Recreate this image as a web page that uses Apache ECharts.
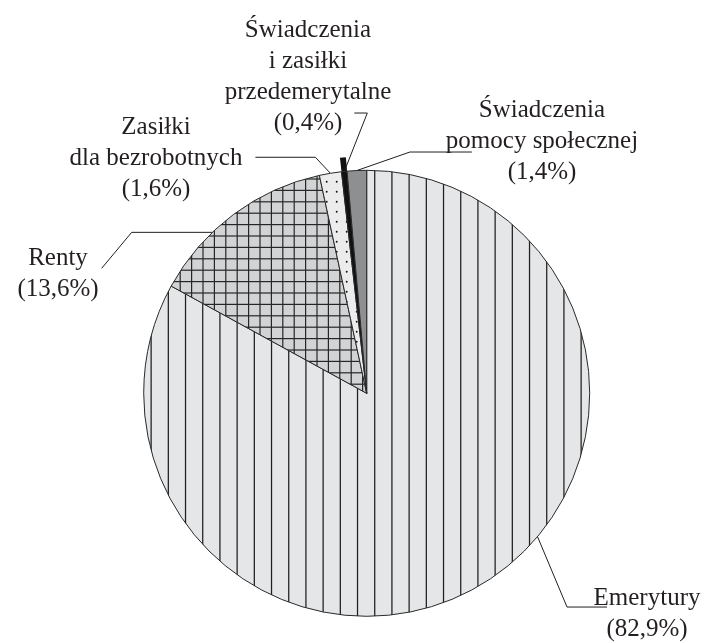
<!DOCTYPE html>
<html><head><meta charset="utf-8">
<script src="https://cdn.jsdelivr.net/npm/echarts@6/dist/echarts.min.js"></script>
<style>html,body{margin:0;padding:0;background:#fff}#c{width:704px;height:643px}</style>
</head><body><div id="c"></div>
<script>
// ---- data ----
const categories = ['Emerytury', 'Renty', 'Zasiłki\ndla bezrobotnych', 'Świadczenia\ni zasiłki\nprzedemerytalne', 'Świadczenia\npomocy społecznej'];
const shares = [82.9, 13.6, 1.6, 0.4, 1.4];

// ---- layout / style ----
const C = [366.7, 393.3];
const R = 223;
const FONT = '"Liberation Serif", "Times New Roman", serif';
const INK = '#231f20';

function tile(w, h, bg, draw) {
  const cv = document.createElement('canvas');
  cv.width = w; cv.height = h;
  const g = cv.getContext('2d');
  g.fillStyle = bg; g.fillRect(0, 0, w, h);
  draw(g);
  return { image: cv, repeat: 'repeat' };
}
const vertLines = tile(172, 8, '#e5e6e8', g => {
  g.fillStyle = '#1f1f1f';
  for (let i = 0; i < 10; i++) g.fillRect(13.5 + i * 17.2 - 0.6, 0, 1.25, 8);
});
const grid = tile(114, 114, '#d2d3d5', g => {
  g.fillStyle = '#262626';
  for (let i = 0; i < 10; i++) {
    g.fillRect(9.2 + i * 11.4 - 0.6, 0, 1.2, 114);
    g.fillRect(0, 8 + i * 11.4 - 0.6, 114, 1.2);
  }
});
const dots = tile(10, 10, '#ececed', g => {
  g.fillStyle = '#111';
  g.beginPath(); g.arc(6.7, 1.7, 0.95, 0, Math.PI * 2); g.fill();
});
const fills = [vertLines, grid, dots, '#111111', '#8e8f91'];

// label placement (label centre, leader offsets from anchor)
const placement = [
  { x: 647, y: 614, angle: 130, elbow: [29.5, 70.4], end: [69.5, 70.4] },
  { x: 58, y: 274, angle: 316.2, elbow: [-80.7, 0], end: [-110.7, 36] },
  { x: 156, y: 158, angle: null, elbow: [-15, -16], end: [-75, -16] },
  { x: 308, y: 77, angle: null, elbow: [23, -58.4], end: [10, -58.4] },
  { x: 542, y: 141, angle: null, elbow: [53, -18.5], end: [115, -18.5] }
];

function anchorFor(i, p) {
  const L = placement[i];
  if (L.angle == null && p.labelLinePoints && p.labelLinePoints[0]) return p.labelLinePoints[0];
  let ang = L.angle;
  if (ang == null) {
    const tot = shares.reduce((a, b) => a + b, 0);
    let s = 0; for (let k = 0; k < i; k++) s += shares[k];
    ang = (s + shares[i] / 2) / tot * 360;
  }
  const t = ang * Math.PI / 180;
  return [C[0] + R * Math.sin(t), C[1] - R * Math.cos(t)];
}

const chart = echarts.init(document.getElementById('c'), null, { renderer: 'canvas' });
chart.setOption({
  animation: false,
  backgroundColor: '#fff',
  series: [
    {
      type: 'pie', center: C, radius: R + 14, startAngle: 90, clockwise: true,
      silent: true, z: 1,
      label: { show: false }, labelLine: { show: false },
      data: categories.map((c, i) => ({
        name: c, value: shares[i],
        itemStyle: { color: i === 3 ? '#111111' : 'rgba(0,0,0,0)', borderWidth: 0 }
      }))
    },
    {
      type: 'pie', center: C, radius: R, startAngle: 90, clockwise: true,
      avoidLabelOverlap: false, silent: true, z: 2,
      itemStyle: { borderColor: '#2a2a2a', borderWidth: 1 },
      label: {
        show: true, position: 'outside',
        formatter: p => {
          const lines = p.name.split('\n').map(s => '{n|' + s + '}');
          lines.push('{n|(' + String(p.value).replace('.', ',') + '%)}');
          return lines.join('\n');
        },
        rich: {
          n: { fontFamily: FONT, fontSize: 25, color: INK, lineHeight: 31, align: 'center' }
        }
      },
      labelLine: { show: true, length: 10, length2: 10, lineStyle: { color: INK, width: 1 } },
      labelLayout: p => {
        const L = placement[p.dataIndex];
        const a = anchorFor(p.dataIndex, p);
        return {
          x: L.x, y: L.y, align: 'center', verticalAlign: 'middle',
          labelLinePoints: [a, [a[0] + L.elbow[0], a[1] + L.elbow[1]], [a[0] + L.end[0], a[1] + L.end[1]]]
        };
      },
      data: categories.map((c, i) => ({ name: c, value: shares[i], itemStyle: { color: fills[i] } }))
    }
  ]
});
</script>
</body></html>
